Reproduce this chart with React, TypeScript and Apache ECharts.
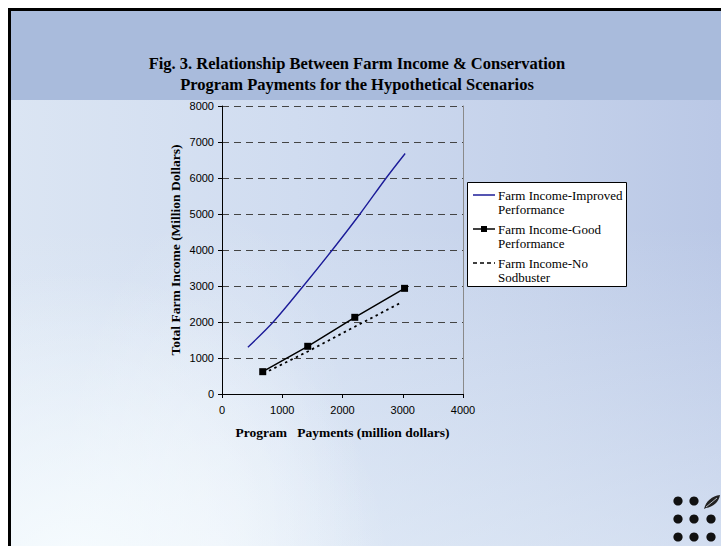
import React, { useEffect, useRef } from "react";
import * as echarts from "echarts";

// Series names and their two-line legend captions
const seriesNames = [
  "Farm Income-Improved Performance",
  "Farm Income-Good Performance",
  "Farm Income-No Sodbuster",
];
const legendLines = [
  ["Farm Income-Improved", "Performance"],
  ["Farm Income-Good", "Performance"],
  ["Farm Income-No", "Sodbuster"],
];

// Program payments (million dollars) vs. total farm income (million dollars)
const improvedPayments = [430, 850, 1350, 1830, 2290, 2725, 3040];
const improvedIncome = [1300, 2000, 3000, 4000, 5000, 6000, 6680];
const goodPayments = [676, 1423, 2204, 3030];
const goodIncome = [620, 1325, 2130, 2935];
const noSodPayments = [690, 1423, 2204, 2950];
const noSodIncome = [570, 1180, 1870, 2520];

// Axis ranges
const xTicks = [0, 1000, 2000, 3000, 4000];
const yTicks = [0, 1000, 2000, 3000, 4000, 5000, 6000, 7000, 8000];

const titleLines = [
  "Fig. 3. Relationship Between Farm Income & Conservation",
  "Program Payments for the Hypothetical Scenarios",
];

const pairs = (xs: number[], ys: number[]) => xs.map((x, i) => [x, ys[i]]);

const SERIF = "'Liberation Serif', 'Times New Roman', serif";
const SANS = "'Liberation Sans', Arial, sans-serif";

let leafRegistered = false;
function registerLeaf() {
  if (leafRegistered) return;
  echarts.graphic.registerShape(
    "leaf",
    echarts.graphic.extendPath("M0,14 C2,6 8,1 16,0 C15,7 9,12 2,13 Z", {}) as any
  );
  leafRegistered = true;
}

export default function App() {
  const ref = useRef<HTMLDivElement>(null);

  useEffect(() => {
    if (!ref.current) return;
    registerLeaf();
    const chart = echarts.init(ref.current, undefined, { renderer: "svg" });

    const lineColors = ["#1c1c99", "#000000", "#000000"];
    const legendX = 467;
    const legendY = 182;
    const legendGraphics: any[] = [
      {
        type: "rect",
        shape: { x: legendX + 0.5, y: legendY + 0.5, width: 159, height: 104 },
        style: { fill: "#ffffff", stroke: "#000000", lineWidth: 1 },
        z: 10,
      },
    ];
    legendLines.forEach((lines, i) => {
      const cy = legendY + 13 + i * 34;
      legendGraphics.push({
        type: "line",
        shape: { x1: legendX + 6, y1: cy, x2: legendX + 28, y2: cy },
        style: {
          stroke: lineColors[i],
          lineWidth: 1.5,
          lineDash: i === 2 ? [4, 3] : null,
        },
        z: 11,
      });
      if (i === 1) {
        legendGraphics.push({
          type: "rect",
          shape: { x: legendX + 14, y: cy - 3, width: 6, height: 6 },
          style: { fill: "#000000" },
          z: 12,
        });
      }
      lines.forEach((t, j) => {
        legendGraphics.push({
          type: "text",
          x: legendX + 31,
          y: cy + j * 14.5,
          style: {
            text: t,
            font: `13px ${SERIF}`,
            fill: "#000000",
            verticalAlign: "middle",
            align: "left",
          },
          z: 12,
        });
      });
    });

    // Logo: 3x3 dots with a leaf in the top-right slot
    const dotXs = [678, 694, 711];
    const dotYs = [501, 519, 537];
    const logo: any[] = [];
    dotYs.forEach((y, r) =>
      dotXs.forEach((x, c) => {
        if (r === 0 && c === 2) return;
        logo.push({
          type: "circle",
          shape: { cx: x, cy: y, r: 4.6 },
          style: { fill: "#111111" },
          z: 5,
        });
      })
    );
    logo.push({
      type: "leaf",
      x: 704,
      y: 495,
      style: { fill: "#222222" },
      z: 5,
    });
    logo.push({
      type: "line",
      shape: { x1: 706, y1: 507, x2: 717, y2: 498 },
      style: { stroke: "#d8dde8", lineWidth: 0.8 },
      z: 6,
    });

    const plain = (v: number) => String(v);

    const option: any = {
      animation: false,
      backgroundColor: "transparent",
      grid: { left: 222, top: 106, right: 258, bottom: 152, containLabel: false },
      xAxis: {
        type: "value",
        min: xTicks[0],
        max: xTicks[xTicks.length - 1],
        interval: xTicks[1] - xTicks[0],
        name: "Program   Payments (million dollars)",
        nameLocation: "middle",
        nameGap: 31,
        nameTextStyle: {
          fontFamily: SERIF,
          fontWeight: "bold",
          fontSize: 13.5,
          color: "#000",
        },
        axisLine: { show: true, lineStyle: { color: "#000", width: 1 } },
        axisTick: { show: true, length: 4, lineStyle: { color: "#000" } },
        axisLabel: {
          fontFamily: SANS,
          fontSize: 11,
          color: "#000",
          margin: 10,
          formatter: plain,
        },
        splitLine: { show: false },
      },
      yAxis: [
        {
          type: "value",
          min: yTicks[0],
          max: yTicks[yTicks.length - 1],
          interval: yTicks[1] - yTicks[0],
          name: "Total Farm Income (Million Dollars)",
          nameLocation: "middle",
          nameGap: 40,
          nameTextStyle: {
            fontFamily: SERIF,
            fontWeight: "bold",
            fontSize: 13.5,
            color: "#000",
          },
          axisLine: { show: true, lineStyle: { color: "#000", width: 1 } },
          axisTick: { show: true, length: 4, lineStyle: { color: "#000" } },
          axisLabel: {
            fontFamily: SANS,
            fontSize: 11,
            color: "#000",
            margin: 8,
            formatter: plain,
          },
          splitLine: {
            show: true,
            lineStyle: { color: "#444", width: 1, type: [7, 5] },
          },
        },
        {
          type: "value",
          position: "right",
          min: yTicks[0],
          max: yTicks[yTicks.length - 1],
          interval: yTicks[1] - yTicks[0],
          axisLine: { show: true, lineStyle: { color: "#8a8a8a", width: 1 } },
          axisTick: { show: false },
          axisLabel: { show: false },
          splitLine: { show: false },
        },
      ],
      series: [
        {
          name: seriesNames[0],
          type: "line",
          data: pairs(improvedPayments, improvedIncome),
          smooth: 0.3,
          showSymbol: false,
          lineStyle: { color: lineColors[0], width: 1.4 },
          itemStyle: { color: lineColors[0] },
        },
        {
          name: seriesNames[1],
          type: "line",
          data: pairs(goodPayments, goodIncome),
          symbol: "rect",
          symbolSize: 7,
          lineStyle: { color: lineColors[1], width: 1.5 },
          itemStyle: { color: "#000" },
          z: 4,
        },
        {
          name: seriesNames[2],
          type: "line",
          data: pairs(noSodPayments, noSodIncome),
          showSymbol: false,
          lineStyle: { color: lineColors[2], width: 1.8, type: [2.5, 3.5] },
          itemStyle: { color: "#000" },
        },
      ],
      graphic: [
        ...titleLines.map((t, i) => ({
          type: "text",
          x: 357,
          y: 63 + i * 21,
          style: {
            text: t,
            font: `bold 16.5px ${SERIF}`,
            fill: "#000",
            align: "center",
            verticalAlign: "middle",
          },
        })),
        ...legendGraphics,
        ...logo,
      ],
    };

    chart.setOption(option);
    return () => chart.dispose();
  }, []);

  const slideBackground = [
    "linear-gradient(#a9bbdc, #a9bbdc) 0 0 / 100% 89px no-repeat",
    "radial-gradient(ellipse 320px 300px at 60px 560px, rgba(248,253,255,0.9), rgba(248,253,255,0) 100%)",
    "radial-gradient(ellipse 200px 460px at 200px 560px, rgba(255,255,255,0.35), rgba(255,255,255,0) 80%)",
    "linear-gradient(to bottom, rgba(240,248,253,0) 40%, rgba(240,248,253,0.45) 100%)",
    "linear-gradient(to right, #dbe5f3 0%, #d0dcf0 40%, #c4d1ea 75%, #bac8e6 100%)",
  ].join(", ");

  return (
    <div
      style={{
        position: "fixed",
        left: 0,
        top: 0,
        width: 721,
        height: 546,
        background: "#ffffff",
        overflow: "hidden",
      }}
    >
      <div
        style={{
          position: "absolute",
          left: 8,
          top: 8,
          width: 713,
          height: 538,
          boxSizing: "border-box",
          borderLeft: "3px solid #000",
          borderTop: "3px solid #000",
          background: slideBackground,
        }}
      />
      <div
        ref={ref}
        style={{ position: "absolute", left: 0, top: 0, width: 721, height: 546 }}
      />
    </div>
  );
}
